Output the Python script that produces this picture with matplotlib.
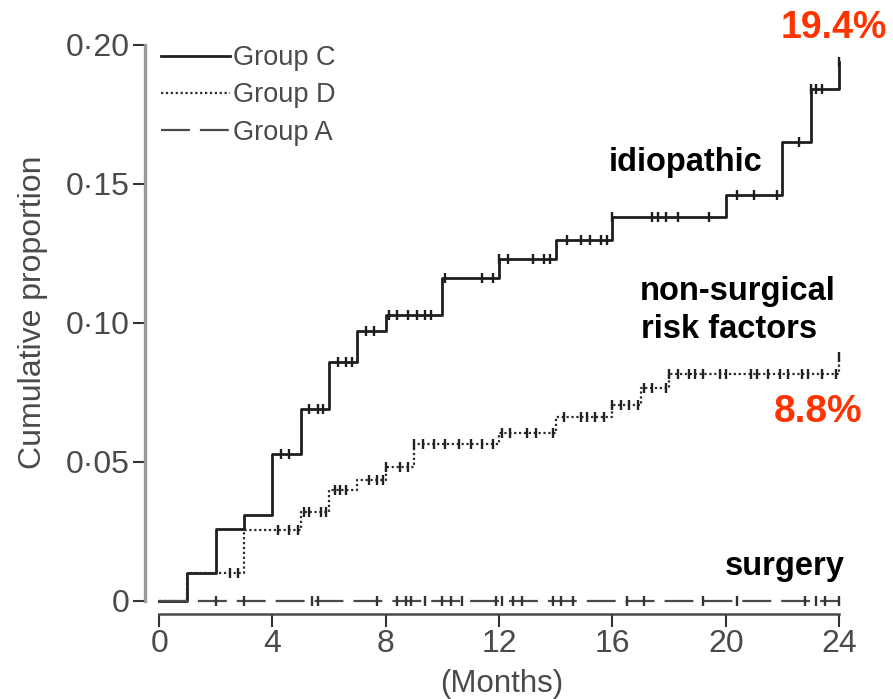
# -*- coding: utf-8 -*-
import numpy as np
import matplotlib
matplotlib.use("Agg")
from matplotlib import pyplot as plt

"""累计比例曲线 (Kaplan-Meier 风格) 的重绘"""

# Group C (idiopathic) 阶梯
c_times = [0, 1, 2, 3, 4, 5, 6, 7, 8, 10, 12, 14, 16, 20, 22, 23, 24]
c_values = [0, 0.010, 0.026, 0.031, 0.053, 0.069, 0.086, 0.097, 0.103, 0.116,
            0.123, 0.130, 0.138, 0.146, 0.165, 0.184, 0.194]
c_censor = [4.3, 4.6, 5.3, 5.6, 5.8, 6.3, 6.6, 6.8, 7.3, 7.6, 8.1, 8.4, 8.8, 9.1,
            9.4, 9.6, 10.1, 11.4, 11.8, 12.0, 12.3, 13.2, 13.6, 13.8, 14.4, 14.9,
            15.2, 15.6, 15.8, 16.0, 17.4, 17.6, 17.9, 18.3, 19.4, 20.4, 21.0,
            21.8, 22.6, 23.0, 23.2, 23.4, 24.0]

# Group D (non-surgical risk factors)
d_times = [0, 1, 3, 5, 6, 7, 8, 9, 12, 14, 16, 17, 18, 24]
d_values = [0, 0.010, 0.0255, 0.032, 0.040, 0.0435, 0.048, 0.0565, 0.0605,
            0.066, 0.0705, 0.0766, 0.0817, 0.0878]
d_censor = [2.5, 2.8, 4.2, 4.6, 4.9, 5.1, 5.3, 5.7, 5.9, 6.2, 6.4, 6.6, 7.4, 7.7,
            7.9, 8.0, 8.5, 8.8, 9.0, 9.3, 9.7, 10.1, 10.6, 11.0, 11.4, 11.8,
            12.1, 12.4, 13.0, 13.3, 13.9, 14.3, 14.9, 15.1, 15.4, 15.7, 16.0,
            16.3, 16.6, 16.9, 17.1, 17.4, 17.9, 18.0, 18.3, 18.7, 18.9, 19.2,
            19.8, 20.0, 20.9, 21.1, 21.5, 21.9, 22.2, 22.7, 22.9, 23.4, 23.9, 24.0]

# Group A (surgery) 全程为0
a_times = [0, 24]
a_values = [0, 0]
a_censor = [2.0, 3.0, 5.4, 5.6, 7.7, 8.4, 8.7, 8.9, 9.4, 10.0, 10.3, 10.7, 11.9,
            12.1, 12.5, 12.8, 13.9, 14.2, 14.6, 16.5, 17.1, 19.2, 20.4, 22.8,
            23.2, 23.5, 24.0]

y_ticks = [0, 0.05, 0.10, 0.15, 0.20]
y_tick_labels = ["0", "0·05", "0·10", "0·15", "0·20"]
x_ticks = [0, 4, 8, 12, 16, 20, 24]

W, H = 893, 699


def step_value(times, values, t):
    """阶梯函数在t处的取值"""
    idx = np.searchsorted(np.array(times), t, side="right") - 1
    return np.array(values)[idx]


def fx(px):
    return px / W


def fy(py):
    return 1 - py / H


def draw():
    plt.rcParams['font.family'] = ['Liberation Sans', 'DejaVu Sans']
    fig = plt.figure(figsize=(W / 100, H / 100), dpi=100)
    ax = fig.add_axes([fx(145), fy(614), (847.5 - 145) / W, (614 - 31) / H])

    # 三条曲线
    ax.step(c_times, c_values, where="post", color="#1e1e1e", lw=2.0, label="Group C")
    ax.step(d_times, d_values, where="post", color="#2a2a2a", lw=1.6,
            linestyle=(0, (1, 1.2)), label="Group D")
    ax.step(a_times, a_values, where="post", color="#4a4a4a", lw=1.6,
            linestyle=(0, (13, 4.5)), label="Group A")

    # 删失标记
    mk = dict(linestyle="none", marker="|", markersize=7, mew=1.7)
    ax.plot(c_censor, step_value(c_times, c_values, c_censor), color="#1e1e1e", **mk)
    ax.plot(d_censor, step_value(d_times, d_values, d_censor), color="#222222", **mk)
    ax.plot(a_censor, step_value(a_times, a_values, a_censor), color="#333333", **mk)

    ax.set_xlim(-0.5, 24.3)
    ax.set_ylim(-0.0047, 0.205)
    ax.spines['top'].set_visible(False)  # 去掉上边框
    ax.spines['right'].set_visible(False)  # 去掉右边框
    ax.spines['left'].set_bounds(0, 0.20)
    ax.spines['left'].set_color("#9a9a9a")
    ax.spines['left'].set_linewidth(2.4)
    ax.spines['bottom'].set_bounds(0, 24)
    ax.spines['bottom'].set_color("#4a4a4a")
    ax.spines['bottom'].set_linewidth(1.8)

    ax.set_yticks(y_ticks)
    ax.set_yticklabels(y_tick_labels)
    ax.set_xticks(x_ticks)
    ax.tick_params(axis="both", direction="out", length=9, width=1.5,
                   color="#333333", labelsize=23, labelcolor="#4a4a4a", pad=2)

    # 坐标轴标签
    fig.text(fx(33), fy(312), "Cumulative proportion", rotation=90, ha="center",
             va="center", fontsize=23, color="#4a4a4a")
    fig.text(fx(502), fy(684), "(Months)", ha="center", va="center",
             fontsize=22.5, color="#4a4a4a")

    # 图例
    ax.legend(loc="upper left", bbox_to_anchor=(fx(161), fy(45)),
              bbox_transform=fig.transFigure, frameon=False, fontsize=19.5,
              handlelength=2.55, handletextpad=0.1, labelspacing=0.42,
              borderpad=0, borderaxespad=0, labelcolor="#4a4a4a")

    # 注释文字
    red = "#ff3300"
    fig.text(fx(834), fy(28), "19.4%", ha="center", va="center", fontsize=27,
             fontweight="bold", color=red)
    fig.text(fx(818), fy(412), "8.8%", ha="center", va="center", fontsize=28,
             fontweight="bold", color=red)
    bold = dict(ha="left", va="center", fontsize=23.5, fontweight="bold", color="black")
    fig.text(fx(609), fy(163), "idiopathic", **bold)
    fig.text(fx(640), fy(292), "non-surgical", **bold)
    fig.text(fx(641), fy(330), "risk factors", **bold)
    fig.text(fx(725), fy(567), "surgery", **bold)

    fig.savefig("out.png", dpi=100)
    plt.close(fig)


if __name__ == "__main__":
    draw()
